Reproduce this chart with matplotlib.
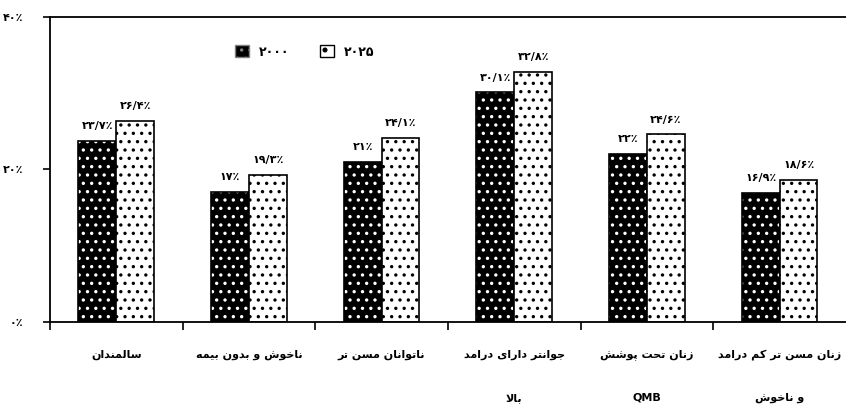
import numpy as np
import matplotlib
matplotlib.use('Agg')
from matplotlib import pyplot as plt
from matplotlib.patches import Patch

categories = ['سالمندان', 'ناخوش و بدون بیمه', 'ناتوانان مسن تر',
              'جوانتر دارای درامد\nبالا', 'زنان تحت پوشش\nQMB',
              'زنان مسن تر کم درامد\nو ناخوش']
vals_2000 = [23.7, 17, 21, 30.1, 22, 16.9]
vals_2025 = [26.4, 19.3, 24.1, 32.8, 24.6, 18.6]
series_names = ['۲۰۰۰', '۲۰۲۵']
yticks = [0, 20, 40]

# arabic presentation forms: isolated, final, initial, medial
FORMS = {
    'ا': ('\uFE8D', '\uFE8E'),
    'ب': ('\uFE8F', '\uFE90', '\uFE91', '\uFE92'),
    'ت': ('\uFE95', '\uFE96', '\uFE97', '\uFE98'),
    'ج': ('\uFE9D', '\uFE9E', '\uFE9F', '\uFEA0'),
    'ح': ('\uFEA1', '\uFEA2', '\uFEA3', '\uFEA4'),
    'خ': ('\uFEA5', '\uFEA6', '\uFEA7', '\uFEA8'),
    'د': ('\uFEA9', '\uFEAA'),
    'ر': ('\uFEAD', '\uFEAE'),
    'ز': ('\uFEAF', '\uFEB0'),
    'س': ('\uFEB1', '\uFEB2', '\uFEB3', '\uFEB4'),
    'ش': ('\uFEB5', '\uFEB6', '\uFEB7', '\uFEB8'),
    'ل': ('\uFEDD', '\uFEDE', '\uFEDF', '\uFEE0'),
    'م': ('\uFEE1', '\uFEE2', '\uFEE3', '\uFEE4'),
    'ن': ('\uFEE5', '\uFEE6', '\uFEE7', '\uFEE8'),
    'ه': ('\uFEE9', '\uFEEA', '\uFEEB', '\uFEEC'),
    'و': ('\uFEED', '\uFEEE'),
    'ی': ('\uFBFC', '\uFBFD', '\uFBFE', '\uFBFF'),
    'پ': ('\uFB56', '\uFB57', '\uFB58', '\uFB59'),
    'ک': ('\uFB8E', '\uFB8F', '\uFB90', '\uFB91'),
}


def shape_line(s):
    if not any(c in FORMS for c in s):
        return s
    out = []
    i = 0
    while i < len(s):
        c = s[i]
        if c not in FORMS:
            out.append(c)
            i += 1
            continue
        prev = s[i - 1] if i > 0 else ''
        nxt = s[i + 1] if i + 1 < len(s) else ''
        jp = prev in FORMS and len(FORMS[prev]) == 4
        if c == 'ل' and nxt == 'ا':
            out.append('\uFEFC' if jp else '\uFEFB')
            i += 2
            continue
        f = FORMS[c]
        jn = len(f) == 4 and nxt in FORMS
        if jp and jn:
            out.append(f[3])
        elif jp:
            out.append(f[1])
        elif jn:
            out.append(f[2])
        else:
            out.append(f[0])
        i += 1
    return ''.join(out)[::-1]


def fa_num(v):
    return f'{v:g}'.translate(str.maketrans('0123456789.', '۰۱۲۳۴۵۶۷۸۹/')) + '٪'


plt.rcParams['font.family'] = ['DejaVu Sans']
plt.rcParams['hatch.linewidth'] = 1.2

fig = plt.figure(figsize=(8.46, 4.05), dpi=100)
ax = fig.add_axes([0.059, 0.205, 0.941, 0.753])

x = np.arange(len(categories)) + 0.5
w = 0.285

# 2000: dark with light pattern
ax.bar(x - w / 2, vals_2000, w, color='black', edgecolor='white', hatch='..', linewidth=0)
ax.bar(x - w / 2, vals_2000, w, fill=False, edgecolor='black', linewidth=1.2)
# 2025: white with dots
ax.bar(x + w / 2, vals_2025, w, color='white', edgecolor='black', hatch='..', linewidth=1.2)

for xi, v in zip(x, vals_2000):
    ax.text(xi - w / 2, v + 1.3, fa_num(v), ha='center', va='bottom', fontsize=8, fontweight='bold')
for xi, v in zip(x, vals_2025):
    ax.text(xi + w / 2, v + 1.3, fa_num(v), ha='center', va='bottom', fontsize=8, fontweight='bold')

for xi, cat in zip(x, categories):
    lines = cat.split('\n')
    for k, line in enumerate(lines):
        ax.text(min(xi, 5.58), -0.108 - 0.141 * k, shape_line(line), ha='center', va='center',
                fontsize=8, fontweight='bold', transform=ax.get_xaxis_transform())

ax.set_xlim(0, 6)
ax.set_ylim(0, 40)
ax.set_xticks(np.arange(0, 6))
ax.set_xticklabels([])
ax.set_yticks(yticks)
ax.set_yticklabels([fa_num(t) for t in yticks], fontsize=8, fontweight='bold')
ax.tick_params(axis='x', direction='out', length=6, width=1.2)
ax.tick_params(axis='y', direction='out', length=5, width=1.2, pad=14)
ax.spines['right'].set_visible(False)
for s in ['left', 'bottom', 'top']:
    ax.spines[s].set_linewidth(1.3)

handles = [Patch(facecolor='black', edgecolor='gray', hatch='..'),
           Patch(facecolor='white', edgecolor='black', hatch='.')]
ax.legend(handles, series_names, ncol=2, frameon=False, loc='center',
          bbox_to_anchor=(0.32, 0.885), handlelength=1.1,
          handleheight=1.1, columnspacing=2.5, prop={'weight': 'bold', 'size': 9})

fig.savefig('out.png', dpi=100)
